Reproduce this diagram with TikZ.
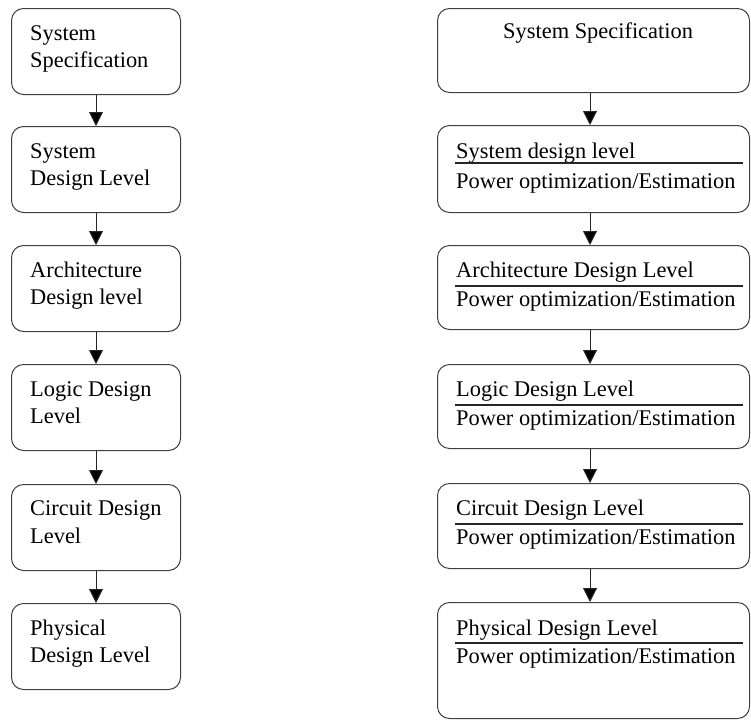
\documentclass[tikz,border=0pt]{standalone}
\usepackage{fontspec}
\setmainfont{Liberation Serif}
\newfontfamily\tnr{Liberation Serif}
\usetikzlibrary{arrows.meta}
\tikzset{
  box/.style={draw=black!75, line width=1pt, rounded corners=12pt, rectangle, inner sep=0pt, anchor=north west},
  lbox/.style={box, minimum width=169pt, minimum height=86pt},
  rbox/.style={box, minimum width=312pt},
  txt/.style={anchor=base west, inner sep=0pt, font=\tnr\fontsize{22.4}{27}\selectfont, text=black},
  sep/.style={line width=1.4pt, black!85},
  flow/.style={draw=black!85, line width=1pt, -{Triangle[length=14pt,width=14pt,fill=black]}}
}
\begin{document}
\begin{tikzpicture}[x=1pt,y=-1pt]
\useasboundingbox (0,0) rectangle (751,720);
% left column
\node[lbox] (l1) at (11,8) {};
\node[lbox] (l2) at (11,126) {};
\node[lbox] (l3) at (11,245) {};
\node[lbox] (l4) at (11,364) {};
\node[lbox] (l5) at (11,484) {};
\node[lbox] (l6) at (11,603) {};
\node[txt] (l1a) at (30,40) {System};
\node[txt] (l1b) at (30,67) {Specification};
\node[txt] (l2a) at (30,158) {System};
\node[txt] (l2b) at (30,185) {Design Level};
\node[txt] (l3a) at (30,277) {Architecture};
\node[txt] (l3b) at (30,304) {Design level};
\node[txt] (l4a) at (30,396) {Logic Design};
\node[txt] (l4b) at (30,423) {Level};
\node[txt] (l5a) at (30,515) {Circuit Design};
\node[txt] (l5b) at (30,543) {Level};
\node[txt] (l6a) at (30,635) {Physical};
\node[txt] (l6b) at (30,662) {Design Level};
\foreach \a/\b in {l1/l2,l2/l3,l3/l4,l4/l5,l5/l6}
  \draw[flow] (\a.south) -- (\b.north);
% right column
\node[rbox, minimum height=84pt] (r1) at (437,8) {};
\node[rbox, minimum height=87pt] (r2) at (437,125) {};
\node[rbox, minimum height=84pt] (r3) at (437,245) {};
\node[rbox, minimum height=84pt] (r4) at (437,364) {};
\node[rbox, minimum height=85pt] (r5) at (437,483) {};
\node[rbox, minimum height=116pt] (r6) at (437,602) {};
\node[txt] (r1a) at (503,38) {System Specification};
\node[txt] (r2a) at (456,158) {System design level};
\node[txt] (r2b) at (456,188) {Power optimization/Estimation};
\node[txt] (r3a) at (456,277) {Architecture Design Level};
\node[txt] (r3b) at (456,306) {Power optimization/Estimation};
\node[txt] (r4a) at (456,396) {Logic Design Level};
\node[txt] (r4b) at (456,425) {Power optimization/Estimation};
\node[txt] (r5a) at (456,515) {Circuit Design Level};
\node[txt] (r5b) at (456,544) {Power optimization/Estimation};
\node[txt] (r6a) at (456,635) {Physical Design Level};
\node[txt] (r6b) at (456,663) {Power optimization/Estimation};
\draw[sep] ([xshift=18pt,yshift=-38pt]r2.north west) -- ([xshift=-7pt,yshift=-38pt]r2.north east);
\foreach \r in {r3,r4,r5,r6}
  \draw[sep] ([xshift=18pt,yshift=-41pt]\r.north west) -- ([xshift=-7pt,yshift=-41pt]\r.north east);
\coordinate (ax) at (590,0);
\foreach \a/\b in {r1/r2,r2/r3,r3/r4,r4/r5,r5/r6}
  \draw[flow] (\a.south -| ax) -- (\b.north -| ax);
\end{tikzpicture}
\end{document}
